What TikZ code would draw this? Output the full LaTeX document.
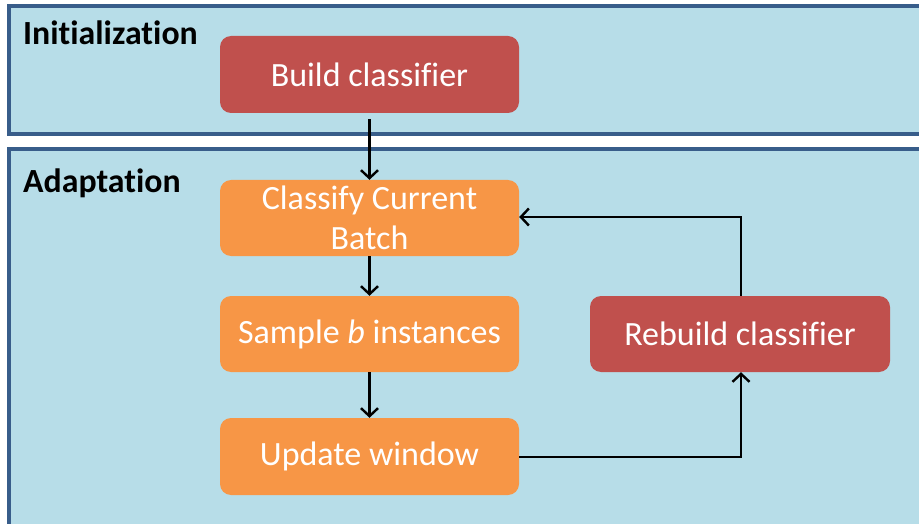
\documentclass[tikz,border=0pt]{standalone}
\usepackage{fontspec}
\setmainfont[Ligatures=NoCommon]{Carlito}
\usetikzlibrary{arrows.meta}
\definecolor{panelfill}{HTML}{B7DDE8}
\definecolor{paneledge}{HTML}{385D8A}
\definecolor{boxred}{HTML}{C0504D}
\definecolor{boxorange}{HTML}{F79646}
\tikzset{
  panel/.style={fill=panelfill, draw=paneledge, line width=3.4pt},
  paneltitle/.style={anchor=base west, inner sep=0pt, font=\fontsize{33.8}{40}\selectfont\bfseries},
  flowbox/.style={rectangle, rounded corners=11pt, minimum width=299pt, minimum height=77pt,
    text=white, align=center, inner sep=0pt, font=\fontsize{34}{40}\selectfont},
  redbox/.style={flowbox, fill=boxred},
  orangebox/.style={flowbox, fill=boxorange},
  flow/.style={line width=2.4pt, -{Straight Barb[length=8pt, width=17pt, line width=2.4pt]}}
}
\begin{document}
\begin{tikzpicture}[x=1pt, y=-1pt]
\useasboundingbox (0,0) rectangle (919,524);
\begin{scope}
  \clip (0,0) rectangle (919,524);
  \path[panel] (9,6) rectangle (940,134);
  \path[panel] (9,149) rectangle (940,560);
\end{scope}
\node[paneltitle] (tinit) at (23,44.5) {Initialization};
\node[paneltitle] (tadapt) at (23,193) {Adaptation};

\node[redbox] (build) at (369.5,74.5) {Build classifier};
\node[orangebox, minimum height=76pt] (classify) at (369.5,218) {Classify Current\\Batch};
\node[orangebox, minimum height=76pt] (sample) at (369.5,334) {Sample \textit{b} instances};
\node[orangebox] (update) at (369.5,456.5) {Update window};
\node[redbox, minimum width=300pt, minimum height=76pt] (rebuild) at (740,334) {Rebuild classifier};

\coordinate (upcorner) at (741,217);
\coordinate (downcorner) at (741,457);

\draw[flow, shorten <=6pt] (build.south) -- (classify.north);
\draw[flow] (classify.south) -- (sample.north);
\draw[flow] (sample.south) -- (update.north);
\draw[flow] (update.east |- downcorner) -- (downcorner) -- (rebuild.south -| downcorner);
\draw[flow] (rebuild.north -| upcorner) -- (upcorner) -- (classify.east |- upcorner);
\end{tikzpicture}
\end{document}
